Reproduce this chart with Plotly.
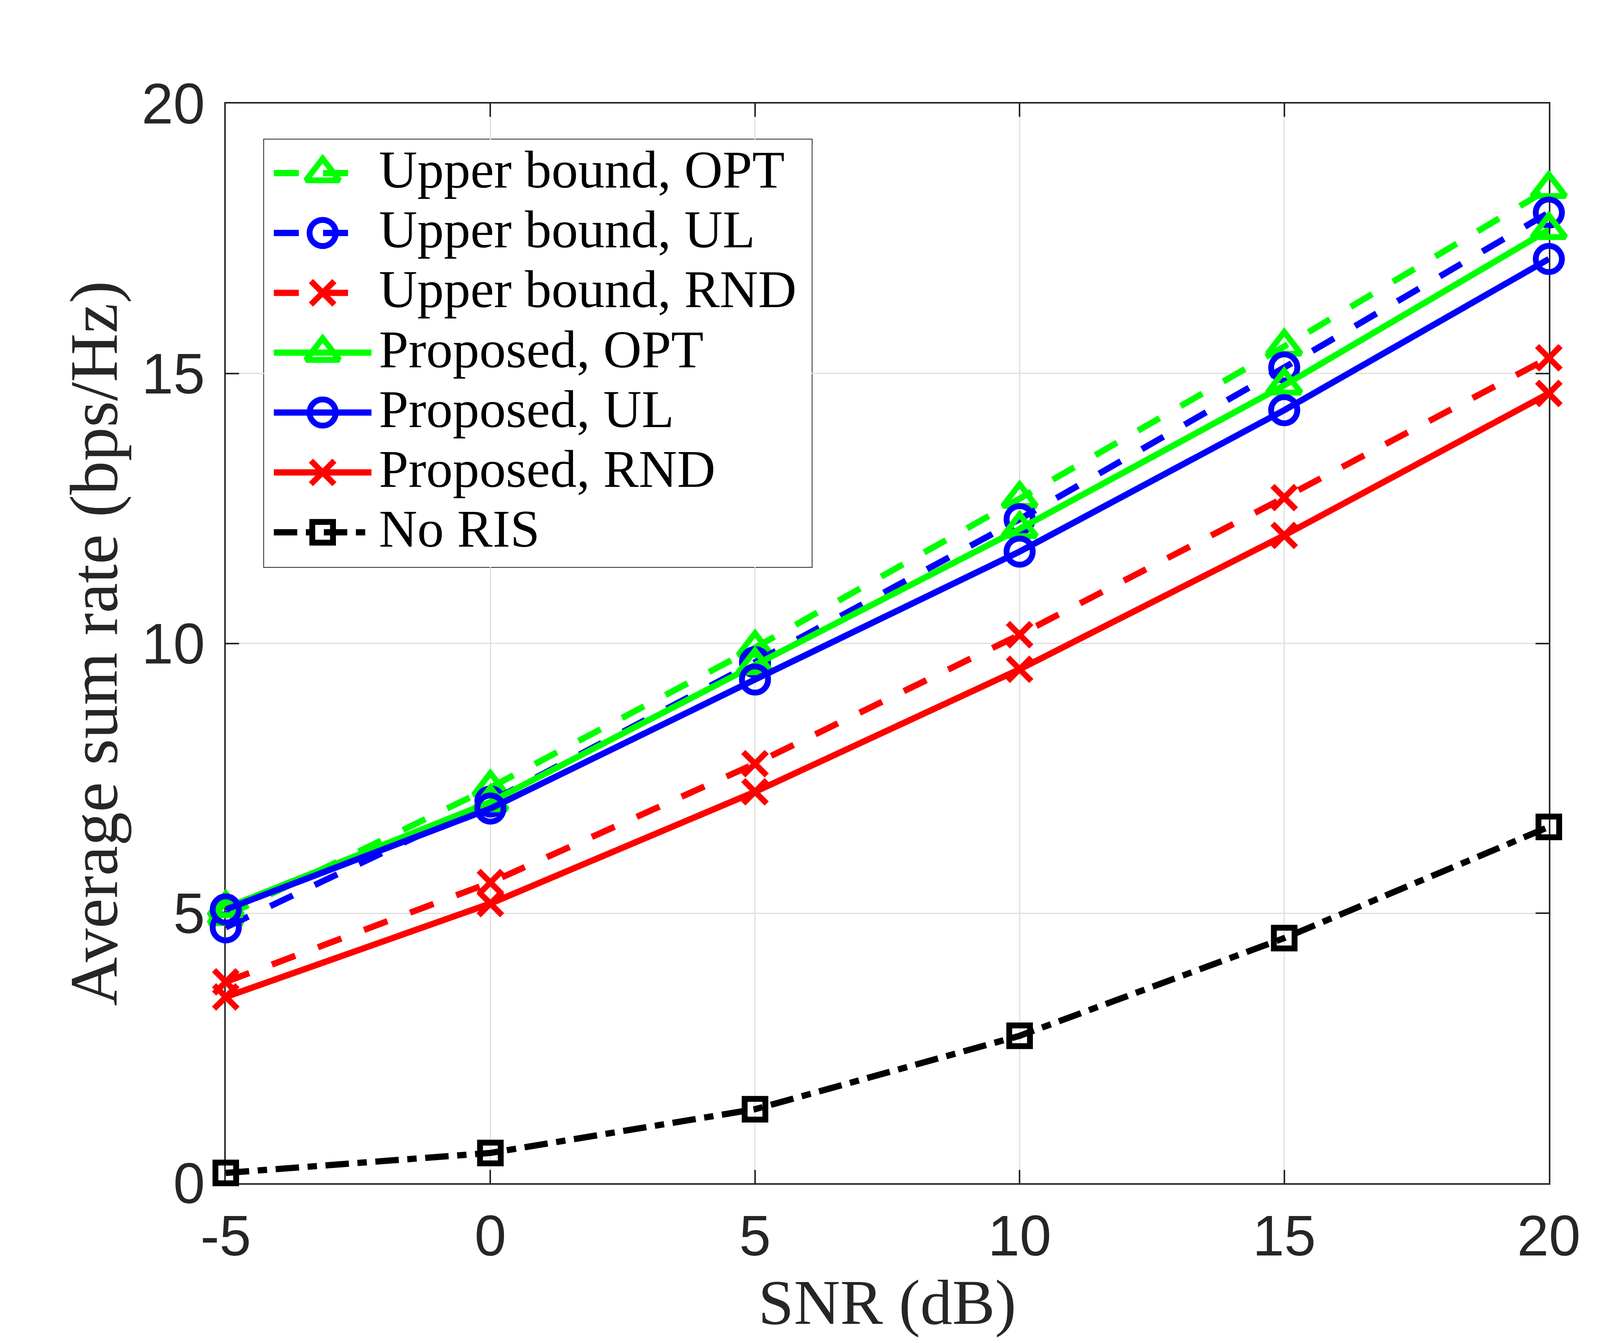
import plotly.graph_objects as go

# ---------------- data ----------------
snr = [-5, 0, 5, 10, 15, 20]
x_tick_vals = [-5, 0, 5, 10, 15, 20]
x_tick_text = ["-5", "0", "5", "10", "15", "20"]
y_tick_vals = [0, 5, 10, 15, 20]
y_tick_text = ["0", "5", "10", "15", "20"]

ub_opt = [4.95, 7.33, 9.92, 12.68, 15.50, 18.42]
ub_ul = [4.74, 7.07, 9.65, 12.30, 15.11, 17.98]
ub_rnd = [3.73, 5.57, 7.77, 10.16, 12.70, 15.29]
pr_opt = [5.10, 7.06, 9.60, 12.12, 14.78, 17.66]
pr_ul = [5.07, 6.94, 9.33, 11.70, 14.32, 17.12]
pr_rnd = [3.45, 5.18, 7.25, 9.52, 12.00, 14.63]
no_ris = [0.19, 0.56, 1.37, 2.73, 4.54, 6.60]

names = ["Upper bound, OPT", "Upper bound, UL", "Upper bound, RND",
         "Proposed, OPT", "Proposed, UL", "Proposed, RND", "No RIS"]
series = [ub_opt, ub_ul, ub_rnd, pr_opt, pr_ul, pr_rnd, no_ris]

# ---------------- styles ----------------
GREEN, BLUE, RED, BLACK = "#00ff00", "#0000ff", "#ff0000", "#000000"
DASH = "64px,62px"
DASHDOT = "60px,22px,24px,22px"
styles = [
    dict(color=GREEN, dash=DASH, symbol="triangle-up-open", size=74, lend=216),
    dict(color=BLUE, dash=DASH, symbol="circle-open", size=67, lend=216),
    dict(color=RED, dash=DASH, symbol="x-thin-open", size=60, lend=216),
    dict(color=GREEN, dash="solid", symbol="triangle-up-open", size=74, lend=275),
    dict(color=BLUE, dash="solid", symbol="circle-open", size=67, lend=275),
    dict(color=RED, dash="solid", symbol="x-thin-open", size=60, lend=275),
    dict(color=BLACK, dash=DASHDOT, symbol="square-open", size=53, lend=265),
]
LW = 16
MLW = 15
AX = "#262626"
GRID = "#dfdfdf"
SANS = "Liberation Sans"
SERIF = "Liberation Serif"

W, H = 4375, 3437
L, R, T, B = 570, 418, 257, 417

fig = go.Figure()

for name, ys, st in zip(names, series, styles):
    fig.add_trace(go.Scatter(
        x=snr, y=ys, name=name, mode="lines+markers",
        line=dict(color=st["color"], width=LW, dash=st["dash"]),
        marker=dict(symbol=st["symbol"], size=st["size"], color=st["color"],
                    line=dict(color=st["color"], width=MLW)),
        cliponaxis=False, showlegend=False,
        xaxis="x", yaxis="y",
    ))

# ---------------- custom legend (in its own pixel-like frame) ----------------
leg_left, leg_right, leg_top, leg_bottom = 668, 2070, 349, 1443
leg_w = leg_right - leg_left
leg_h = leg_bottom - leg_top
pw, ph = W - L - R, H - T - B
row0, row_step = 86, 153.2
line_x0, mark_x, text_x = 25, 150, 292

for i, (name, st) in enumerate(zip(names, styles)):
    yy = row0 + i * row_step
    fig.add_trace(go.Scatter(
        x=[line_x0, st["lend"]], y=[yy, yy], mode="lines",
        line=dict(color=st["color"], width=LW, dash=st["dash"]),
        showlegend=False, hoverinfo="skip", xaxis="x2", yaxis="y2",
    ))
    fig.add_trace(go.Scatter(
        x=[mark_x], y=[yy], mode="markers",
        marker=dict(symbol=st["symbol"], size=st["size"], color=st["color"],
                    line=dict(color=st["color"], width=MLW)),
        showlegend=False, hoverinfo="skip", xaxis="x2", yaxis="y2", cliponaxis=False,
    ))
    fig.add_annotation(
        x=text_x, y=yy - 9, xref="x2", yref="y2", text=name, showarrow=False,
        xanchor="left", yanchor="middle",
        font=dict(family=SERIF, size=136, color="black"),
    )

fig.add_shape(type="rect", xref="x2 domain", yref="y2 domain",
              x0=0, x1=1, y0=0, y1=1, layer="below",
              fillcolor="white", line=dict(color=AX, width=4))

# axis titles
fig.add_annotation(
    x=0.5, y=(-(3324 - (H - B)) / ph), xref="paper", yref="paper",
    text="SNR (dB)", showarrow=False, xanchor="center", yanchor="middle",
    font=dict(family=SERIF, size=164, color=AX),
)
fig.add_annotation(
    x=(232 - L) / pw, y=0.5, xref="paper", yref="paper",
    text="Average sum rate (bps/Hz)", showarrow=False, textangle=-90,
    xanchor="center", yanchor="middle",
    font=dict(family=SERIF, size=173, color=AX),
)

axis_common = dict(
    showline=True, linecolor=AX, linewidth=4, mirror="ticks",
    ticks="inside", ticklen=34, tickwidth=4, tickcolor=AX,
    showgrid=True, gridcolor=GRID, gridwidth=3, zeroline=False,
    tickfont=dict(family=SANS, size=146, color=AX),
    layer="below traces",
)

fig.update_layout(
    width=W, height=H, autosize=False,
    margin=dict(l=L, r=R, t=T, b=B, pad=0),
    paper_bgcolor="white", plot_bgcolor="white",
    showlegend=False,
    xaxis=dict(range=[-5, 20], tickvals=x_tick_vals, ticktext=x_tick_text,
               ticklabelstandoff=6, **axis_common),
    yaxis=dict(range=[0, 20], tickvals=y_tick_vals, ticktext=y_tick_text,
               ticklabelstandoff=20, **axis_common),
    xaxis2=dict(domain=[(leg_left - L) / pw, (leg_right - L) / pw],
                range=[0, leg_w], anchor="y2", visible=False, fixedrange=True),
    yaxis2=dict(domain=[(H - B - leg_bottom) / ph, (H - B - leg_top) / ph],
                range=[leg_h, 0], anchor="x2", visible=False, fixedrange=True),
)

fig.write_html("out.html")
